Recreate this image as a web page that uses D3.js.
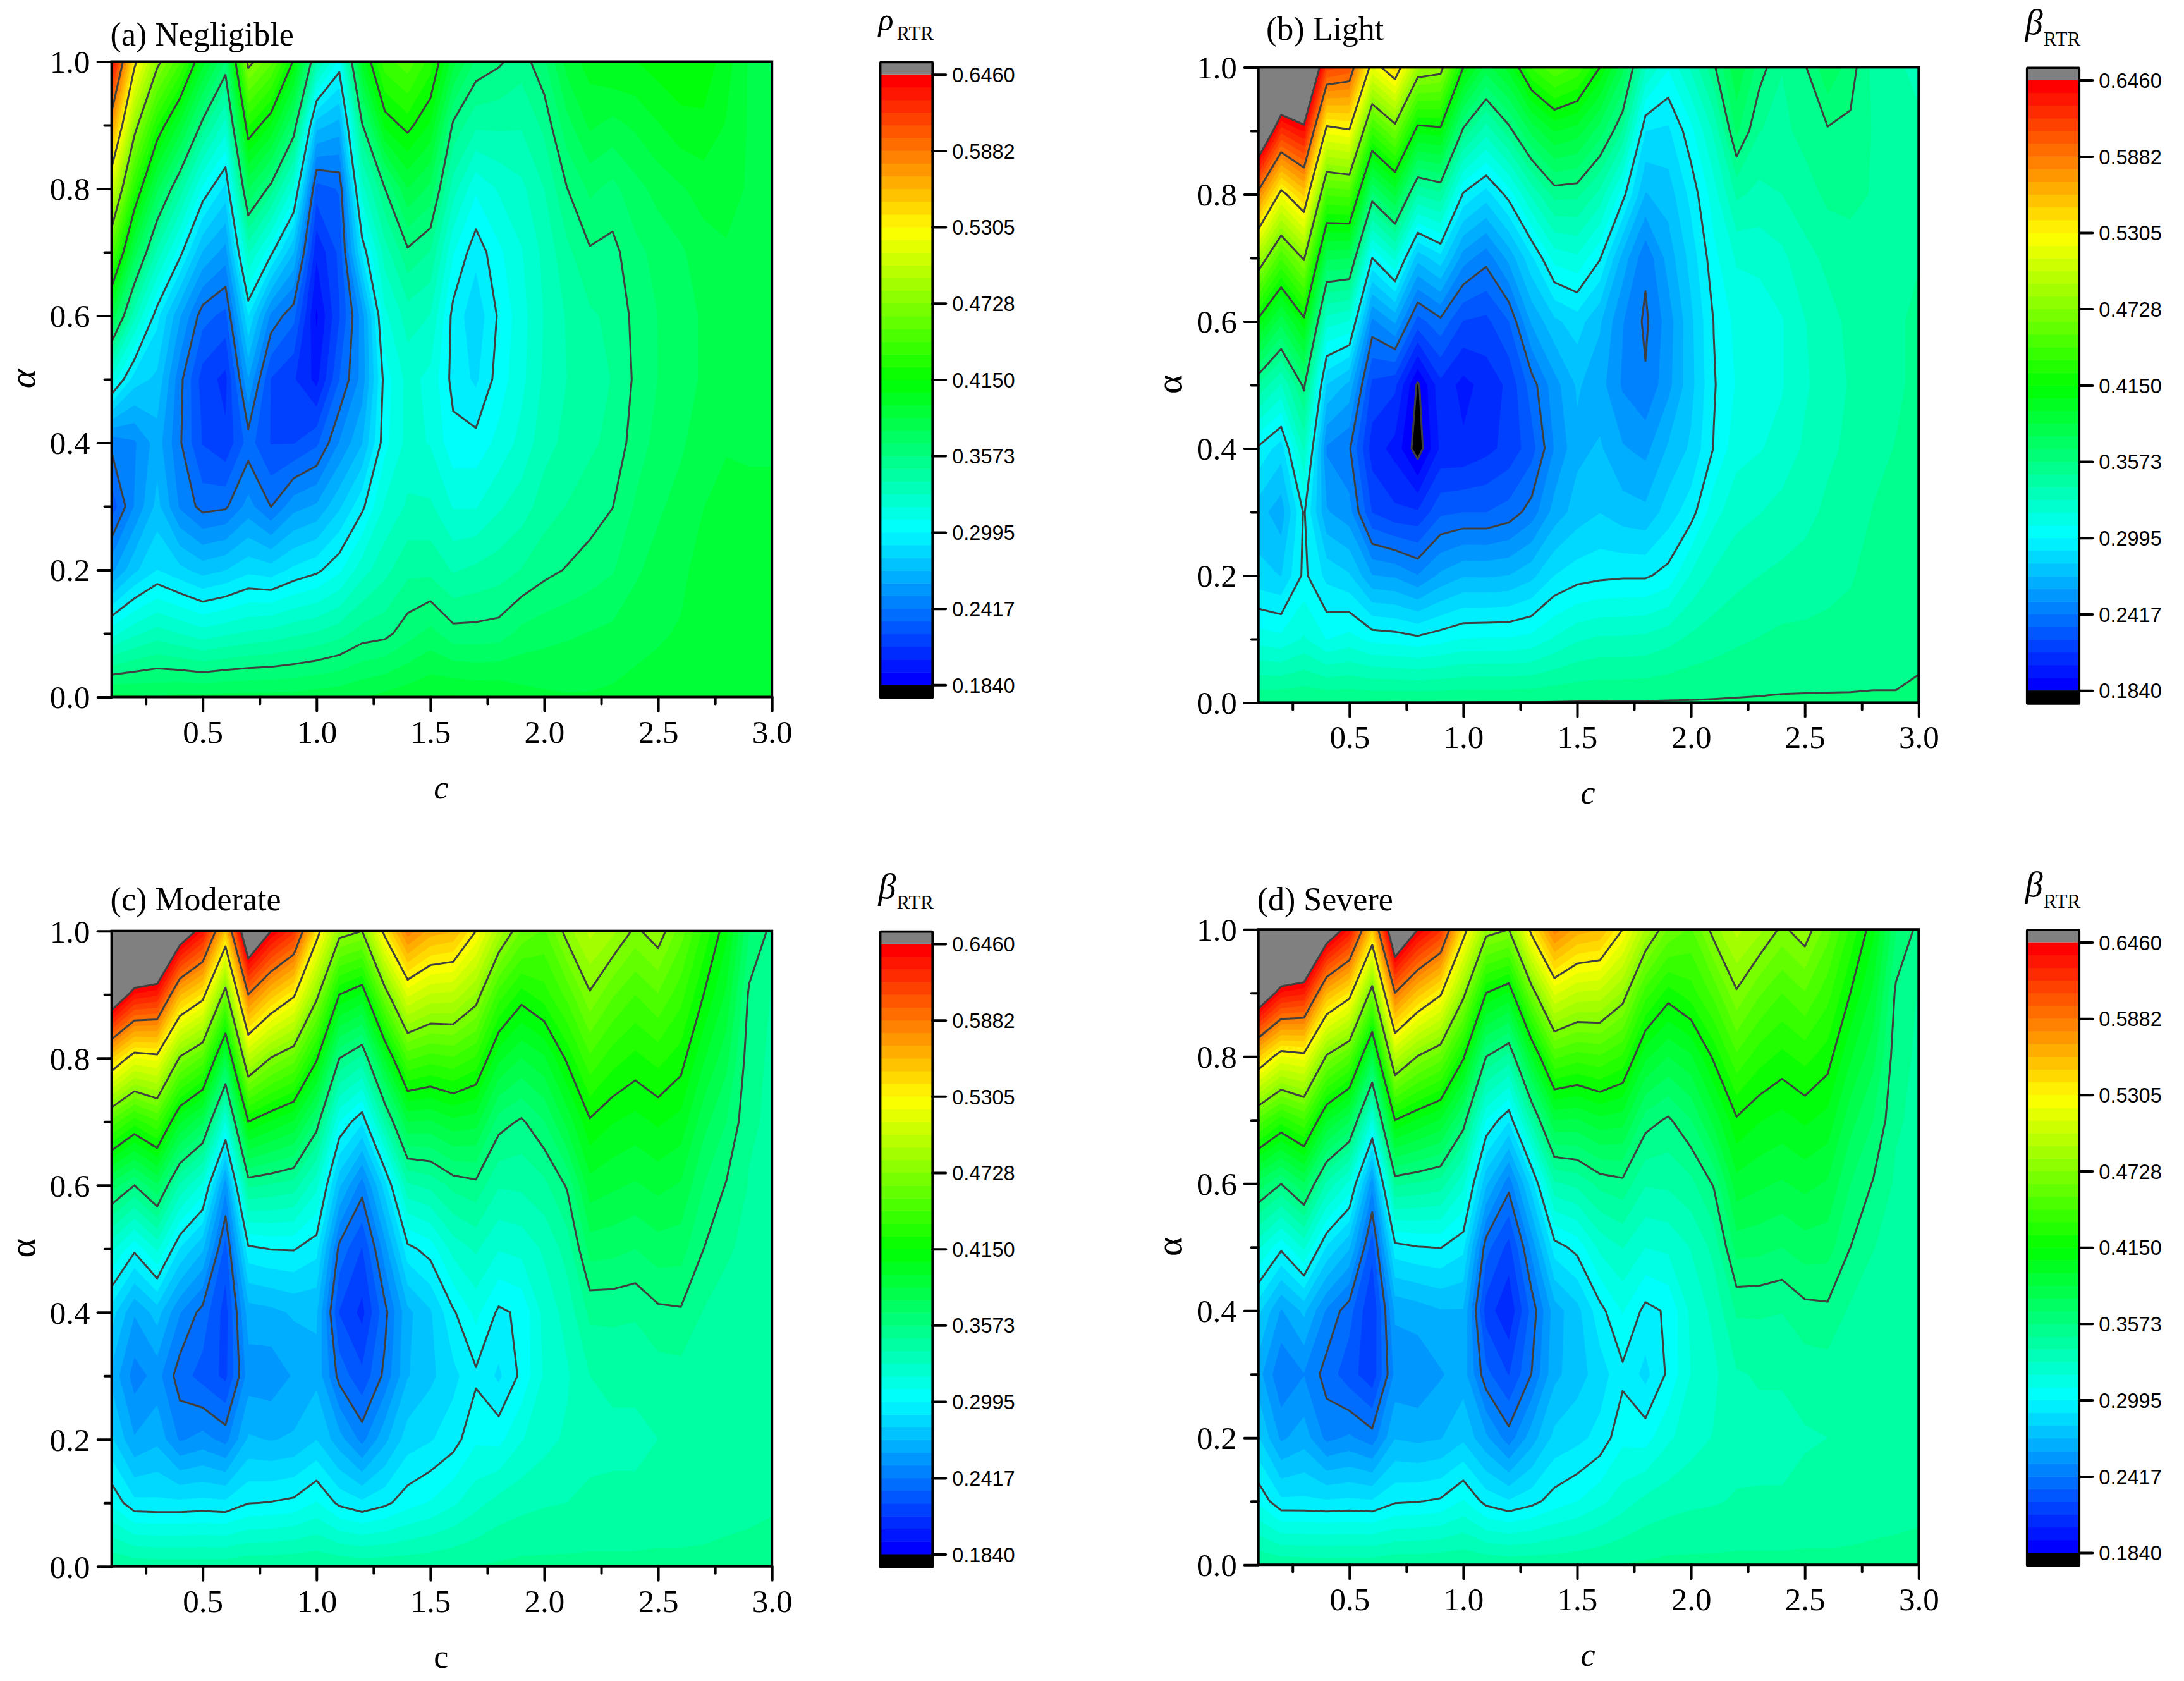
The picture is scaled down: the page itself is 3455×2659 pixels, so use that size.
<!DOCTYPE html>
<html><head><meta charset="utf-8">
<script src="https://cdn.jsdelivr.net/npm/d3@7"></script>
<style>
html,body{margin:0;padding:0;background:#fff}
svg{display:block}
text{fill:#000}
</style></head><body><div id="chart"></div>
<script>
// grid axes
const cValues=[.1,.2,.3,.4,.5,.6,.7,.8,.9,1,1.1,1.2,1.3,1.4,1.5,1.6,1.7,1.8,1.9,2,2.1,2.2,2.3,2.4,2.5,2.6,2.7,2.8,2.9,3];
const alphaValues=[0,.1,.2,.3,.4,.5,.6,.7,.8,.9,1];
const xMajor=[.5,1,1.5,2,2.5,3];
const xMinor=[.25,.75,1.25,1.75,2.25,2.75];
const yMajor=[0,.2,.4,.6,.8,1];
const yMinor=[.1,.3,.5,.7,.9];
const barLabels=["0.1840","0.2417","0.2995","0.3573","0.4150","0.4728","0.5305","0.5882","0.6460"];
const barValues=[.184,.2417,.2995,.3573,.415,.4728,.5305,.5882,.646];
// one row per c value, entries for alpha 0.0 ... 1.0
const panelA=[
[.38,.315,.258,.226,.2445,.316,.386,.45,.509,.574,.64],
[.378,.326,.278,.252,.25,.285,.332,.382,.431,.481,.536],
[.377,.333,.29,.274,.266,.278,.293,.335,.379,.426,.478],
[.379,.328,.283,.25,.243,.245,.262,.303,.344,.393,.445],
[.379,.323,.276,.238,.222,.218,.236,.27,.307,.353,.4],
[.38,.3265,.28,.24,.215,.21,.229,.257,.287,.324,.366],
[.38,.33,.287,.255,.2365,.261,.29,.33,.377,.426,.478],
[.38,.332,.2845,.2415,.222,.222,.249,.302,.353,.405,.456],
[.38,.336,.292,.2575,.222,.214,.235,.271,.316,.366,.413],
[.382,.339,.297,.2625,.23,.2,.192,.205,.228,.2745,.34],
[.383,.344,.307,.2785,.252,.232,.222,.225,.233,.267,.306],
[.386,.352,.324,.297,.27,.255,.256,.292,.3245,.356,.4],
[.389,.354,.335,.32,.306,.304,.316,.333,.357,.408,.44],
[.392,.363,.345,.33,.322,.322,.333,.355,.386,.419,.45],
[.395,.37,.345,.33,.318,.316,.328,.347,.374,.404,.43],
[.397,.361,.337,.318,.303,.296,.296,.31,.333,.355,.39],
[.395,.361,.34,.318,.303,.288,.283,.293,.311,.34,.365],
[.395,.362,.343,.327,.312,.304,.301,.307,.32,.34,.359],
[.39,.37,.348,.333,.322,.316,.315,.318,.326,.339,.352],
[.388,.373,.354,.343,.334,.33,.329,.331,.338,.35,.365],
[.387,.375,.358,.348,.341,.338,.339,.345,.357,.373,.39],
[.387,.377,.362,.352,.346,.344,.346,.356,.369,.388,.4],
[.388,.379,.366,.357,.35,.348,.35,.354,.364,.383,.405],
[.39,.382,.375,.368,.362,.359,.36,.364,.373,.388,.405],
[.39,.385,.38,.375,.37,.367,.367,.37,.38,.395,.41],
[.39,.387,.384,.38,.375,.372,.372,.375,.385,.402,.413],
[.39,.39,.39,.386,.382,.378,.378,.382,.39,.403,.412],
[.39,.39,.392,.39,.385,.383,.383,.385,.39,.395,.4],
[.39,.39,.39,.388,.385,.385,.385,.385,.385,.385,.385],
[.39,.39,.39,.388,.385,.385,.383,.38,.38,.378,.375]];
const panelB=[
[.356,.3145,.283,.275,.2975,.3465,.4109,.4885,.5814,.692,.8],
[.357,.312,.28,.265,.285,.3275,.38,.445,.524,.621,.72],
[.3572,.32,.302,.301,.33,.36,.411,.475,.552,.638,.72],
[.3572,.3087,.287,.262,.25,.28,.323,.3784,.445,.524,.6125],
[.3572,.3128,.2814,.255,.243,.268,.3182,.3768,.4477,.5288,.605],
[.3573,.306,.2614,.222,.208,.22,.2488,.2995,.3645,.4384,.52],
[.3574,.3047,.2595,.215,.2,.215,.2626,.321,.3886,.4636,.546],
[.3574,.302,.2517,.214,.178,.182,.228,.274,.3385,.4083,.485],
[.3574,.3055,.2632,.23,.205,.21,.239,.2865,.345,.411,.48],
[.3575,.3095,.2697,.232,.205,.2,.222,.2561,.298,.3545,.415],
[.3575,.31,.2694,.232,.21,.207,.22,.2453,.2855,.3327,.382],
[.3575,.31,.2708,.236,.216,.215,.232,.264,.3035,.353,.4],
[.3576,.312,.2775,.246,.228,.237,.2625,.288,.3305,.3795,.435],
[.3577,.32,.29,.265,.252,.257,.278,.313,.351,.3966,.452],
[.3578,.327,.295,.275,.268,.272,.285,.3169,.35,.3913,.442],
[.3578,.33,.297,.28,.272,.265,.272,.3005,.335,.372,.415],
[.3579,.33,.298,.275,.262,.25,.252,.267,.3035,.3473,.38],
[.3579,.331,.298,.273,.258,.243,.2397,.244,.27,.29,.33],
[.358,.335,.303,.285,.272,.258,.256,.265,.275,.288,.31],
[.358,.34,.32,.295,.282,.277,.278,.284,.293,.306,.33],
[.3581,.343,.33,.315,.3,.2985,.2998,.306,.314,.33,.355],
[.3582,.346,.335,.325,.315,.31,.312,.32,.34,.369,.385],
[.3583,.348,.338,.328,.318,.312,.312,.322,.335,.348,.362],
[.3584,.35,.34,.332,.322,.318,.318,.326,.338,.345,.348],
[.3585,.35,.342,.335,.33,.327,.328,.335,.343,.351,.356],
[.3586,.35,.345,.34,.336,.333,.335,.34,.35,.356,.375],
[.3587,.35,.347,.343,.34,.339,.34,.344,.35,.355,.362],
[.359,.35,.35,.348,.345,.343,.343,.345,.347,.347,.345],
[.359,.35,.352,.35,.348,.346,.346,.346,.345,.342,.34],
[.363,.35,.352,.35,.35,.35,.35,.347,.343,.34,.335]];
const panelC=[
[.347,.307,.282,.268,.285,.321,.3728,.45,.551,.6765,.8],
[.345,.2925,.262,.247,.262,.302,.3573,.429,.5205,.635,.74],
[.344,.292,.268,.255,.275,.321,.3755,.443,.5245,.629,.73],
[.344,.292,.25,.2365,.252,.2893,.3362,.3973,.4705,.5608,.67],
[.344,.293,.255,.2285,.238,.2723,.3164,.378,.4514,.5383,.635],
[.344,.292,.248,.22,.218,.228,.255,.3177,.3847,.463,.552],
[.346,.299,.272,.256,.266,.297,.3494,.415,.4968,.5882,.69],
[.346,.3,.27,.255,.268,.3,.3467,.404,.472,.5554,.646],
[.347,.302,.272,.262,.272,.3003,.3432,.3948,.4585,.5335,.62],
[.347,.31,.28,.268,.272,.2933,.3217,.3637,.4174,.4784,.54],
[.346,.297,.265,.238,.222,.2385,.2726,.3088,.3575,.415,.48],
[.345,.292,.248,.225,.21,.222,.2465,.2915,.3446,.4045,.4728],
[.345,.297,.268,.2445,.2385,.2567,.285,.3415,.3972,.464,.537],
[.345,.305,.285,.27,.268,.2965,.3366,.386,.4461,.5138,.585],
[.346,.31,.289,.278,.279,.304,.3406,.3849,.4394,.5007,.565],
[.347,.317,.295,.287,.298,.3225,.3508,.3928,.4428,.499,.56],
[.348,.325,.3075,.2975,.312,.33,.354,.3901,.4328,.481,.5305],
[.349,.332,.306,.288,.2975,.3195,.339,.362,.3983,.4392,.49],
[.35,.335,.318,.302,.3015,.322,.34,.3555,.386,.4205,.462],
[.35,.337,.325,.32,.322,.33,.345,.3665,.3943,.43,.452],
[.35,.338,.33,.327,.332,.342,.3585,.389,.4174,.447,.478],
[.35,.34,.335,.338,.35,.371,.392,.4135,.442,.4713,.495],
[.35,.34,.336,.34,.35,.37,.388,.406,.429,.455,.485],
[.35,.34,.336,.34,.349,.367,.385,.402,.422,.444,.47],
[.35,.342,.338,.343,.355,.372,.389,.407,.428,.453,.48],
[.35,.342,.339,.344,.356,.371,.385,.402,.42,.438,.458],
[.35,.343,.34,.341,.347,.3573,.367,.38,.397,.415,.432],
[.35,.345,.342,.341,.344,.349,.3565,.367,.38,.394,.408],
[.35,.346,.343,.342,.343,.345,.347,.349,.351,.355,.368],
[.35,.347,.345,.344,.344,.345,.345,.346,.346,.347,.354]];
const panelD=[
[.347,.307,.281,.265,.283,.321,.3728,.45,.551,.677,.8],
[.345,.292,.259,.243,.26,.302,.3575,.429,.5205,.635,.74],
[.344,.292,.266,.251,.273,.321,.3755,.443,.525,.629,.73],
[.344,.291,.2485,.2375,.25,.289,.3362,.3973,.4705,.561,.67],
[.344,.292,.253,.2265,.236,.272,.3164,.378,.4514,.5383,.635],
[.344,.291,.246,.216,.213,.226,.2545,.3177,.3847,.463,.552],
[.346,.298,.27,.254,.263,.296,.3494,.415,.4968,.588,.69],
[.346,.299,.268,.253,.266,.299,.3467,.404,.472,.5554,.646],
[.347,.301,.27,.26,.27,.3,.3432,.3948,.4585,.5335,.62],
[.347,.31,.278,.266,.27,.2925,.3217,.3637,.4174,.4784,.54],
[.346,.296,.263,.235,.218,.236,.2726,.3088,.3575,.415,.48],
[.345,.291,.246,.222,.205,.219,.2455,.2912,.3446,.4045,.4728],
[.345,.296,.266,.242,.2355,.2545,.285,.3415,.3972,.464,.537],
[.345,.304,.283,.268,.266,.295,.3366,.386,.4461,.5138,.585],
[.346,.309,.287,.276,.277,.303,.3406,.3849,.4394,.5007,.565],
[.347,.316,.293,.285,.296,.3215,.3508,.3928,.4428,.499,.56],
[.348,.324,.3065,.297,.31,.329,.354,.3901,.4328,.481,.5305],
[.349,.331,.305,.287,.2965,.319,.339,.362,.3983,.4392,.49],
[.35,.334,.317,.3015,.301,.321,.34,.3555,.386,.4205,.462],
[.35,.336,.324,.319,.321,.329,.345,.3665,.3943,.43,.452],
[.35,.337,.329,.326,.331,.341,.3585,.389,.4174,.447,.478],
[.35,.339,.334,.337,.349,.371,.392,.4135,.442,.4713,.495],
[.35,.339,.335,.339,.349,.37,.388,.406,.429,.455,.485],
[.35,.339,.335,.339,.348,.367,.385,.402,.422,.444,.47],
[.35,.341,.337,.342,.354,.372,.389,.407,.428,.453,.48],
[.35,.341,.338,.343,.355,.371,.385,.402,.42,.438,.458],
[.35,.342,.339,.34,.346,.3573,.367,.38,.397,.415,.432],
[.35,.344,.341,.34,.343,.348,.3565,.367,.38,.394,.408],
[.35,.345,.342,.341,.342,.344,.346,.349,.351,.355,.368],
[.35,.346,.344,.343,.343,.344,.344,.345,.346,.347,.354]];

const panels=[
 {data:panelA,title:"(a) Negligible",left:176.6,top:97.5,titleY:72,sym:"\u03C1",symY:-50,symSize:50,alphaItalic:true,cItalic:true},
 {data:panelB,title:"(b) Light",left:1990.7,top:106.4,titleY:63,titleX:2003,sym:"\u03B2",symY:-52,symSize:56,alphaItalic:false,cItalic:true},
 {data:panelC,title:"(c) Moderate",left:176.6,top:1472.7,titleY:1440,sym:"\u03B2",symY:-52,symSize:56,alphaItalic:false,cItalic:false},
 {data:panelD,title:"(d) Severe",left:1990.7,top:1470.2,titleY:1440,sym:"\u03B2",symY:-52,symSize:56,alphaItalic:false,cItalic:true}
];
const W=1044.6,H=1005;
const levelMin=.184,levelMax=.646,nBands=48;
const step=(levelMax-levelMin)/nBands;
const thresholds=d3.range(nBands+1).map(i=>levelMin+i*step);
const lineLevels=thresholds.filter((d,i)=>i%6===0);
const rainbow=d3.scaleLinear().domain([0,.25,.5,.75,1]).range(["#0000ff","#00ffff","#00ff00","#ffff00","#ff0000"]);
const bandColor=i=> i>=nBands?"#808080":rainbow(i/(nBands-1));
const serif="'Liberation Serif','Times New Roman',serif";
const sans="'Liberation Sans',Arial,sans-serif";

const svg=d3.select("#chart").append("svg").attr("width",3455).attr("height",2659);
svg.append("rect").attr("width",3455).attr("height",2659).attr("fill","#fff");
const contourGen=d3.contours().size([cValues.length,alphaValues.length]).smooth(true);

panels.forEach((p,pi)=>{
  const g=svg.append("g").attr("transform",`translate(${p.left},${p.top})`);
  const x=d3.scaleLinear().domain([.1,3]).range([0,W]);
  const y=d3.scaleLinear().domain([0,1]).range([H,0]);
  const vals=[];
  alphaValues.forEach((a,r)=>cValues.forEach((c,k)=>vals.push(p.data[k][r])));
  const path=d3.geoPath(d3.geoTransform({point(px,py){
    const cv=cValues[0]+(px-.5)*(cValues[1]-cValues[0]);
    const av=alphaValues[0]+(py-.5)*(alphaValues[1]-alphaValues[0]);
    this.stream.point(x(cv),y(av));
  }}));
  const clipId="clip"+pi;
  g.append("clipPath").attr("id",clipId).append("rect").attr("width",W).attr("height",H);
  const plot=g.append("g").attr("clip-path",`url(#${clipId})`);
  plot.append("rect").attr("width",W).attr("height",H).attr("fill","#000");
  plot.selectAll("path.band").data(thresholds).join("path").attr("class","band")
    .attr("d",t=>path(contourGen.contour(vals,t)))
    .attr("fill",(t,i)=>bandColor(i));
  plot.selectAll("path.iso").data(lineLevels).join("path").attr("class","iso")
    .attr("d",t=>path(contourGen.contour(vals,t)))
    .attr("fill","none").attr("stroke","#404040").attr("stroke-width",3).attr("stroke-linejoin","round");
  // frame
  g.append("rect").attr("width",W).attr("height",H).attr("fill","none").attr("stroke","#000").attr("stroke-width",4);
  // axes
  const styleAxis=s=>{s.select(".domain").remove();s.selectAll("line").attr("stroke","#000").attr("stroke-width",4).attr("stroke-linecap","round");};
  const xa=g.append("g").attr("transform",`translate(0,${H})`).call(d3.axisBottom(x).tickValues(xMajor).tickSize(22).tickFormat(d3.format(".1f")));
  styleAxis(xa);
  xa.selectAll("text").attr("y",72).attr("dy",0).attr("font-family",serif).attr("font-size",51).attr("fill","#000");
  const xm=g.append("g").attr("transform",`translate(0,${H})`).call(d3.axisBottom(x).tickValues(xMinor).tickSize(11).tickFormat(""));
  styleAxis(xm);
  const ya=g.append("g").call(d3.axisLeft(y).tickValues(yMajor).tickSize(22).tickFormat(d3.format(".1f")));
  styleAxis(ya);
  ya.selectAll("text").attr("x",-34).attr("dy",".34em").attr("font-family",serif).attr("font-size",51).attr("fill","#000");
  const ym=g.append("g").call(d3.axisLeft(y).tickValues(yMinor).tickSize(11).tickFormat(""));
  styleAxis(ym);
  // titles
  svg.append("text").attr("x",p.titleX||p.left-2).attr("y",p.titleY).attr("font-family",serif).attr("font-size",52).text(p.title);
  g.append("text").attr("x",W/2-1).attr("y",H+160).attr("text-anchor","middle").attr("font-family",serif).attr("font-size",52)
    .attr("font-style",p.cItalic?"italic":"normal").text("c");
  g.append("text").attr("transform",`translate(${-122},${H/2-1}) rotate(-90)`).attr("text-anchor","middle").attr("font-family",serif)
    .attr("font-size",58).attr("font-style",p.alphaItalic?"italic":"normal").text("\u03B1");
  // colour bar
  const bx=1216,bw=82.6;
  const by=d3.scaleLinear().domain([levelMin,levelMax]).range([985.8,20.2]);
  const bar=g.append("g").attr("transform",`translate(${bx},0)`);
  const bandH=by(levelMin)-by(levelMin+step);
  bar.selectAll("rect.b").data(thresholds.slice(0,nBands)).join("rect").attr("class","b")
    .attr("width",bw).attr("y",t=>by(t+step)).attr("height",bandH+.5).attr("fill",(t,i)=>bandColor(i));
  bar.append("rect").attr("width",bw).attr("y",0.9).attr("height",by(levelMax)-0.9).attr("fill","#808080");
  bar.append("rect").attr("width",bw).attr("y",by(levelMin)).attr("height",1006.5-by(levelMin)).attr("fill","#000");
  bar.append("rect").attr("width",bw).attr("y",0.9).attr("height",1005.6).attr("fill","none").attr("stroke","#000").attr("stroke-width",3.6).attr("rx",1);
  const ba=bar.append("g").attr("transform",`translate(${bw},0)`).call(d3.axisRight(by).tickValues(barValues).tickSize(21).tickFormat((d,i)=>barLabels[i]));
  styleAxis(ba);
  ba.selectAll("text").attr("x",31).attr("dy",".36em").attr("font-family",sans).attr("font-size",32.5).attr("fill","#000");
  // colour bar title
  bar.append("text").attr("x",-3).attr("y",p.symY).attr("font-family",serif).attr("font-style","italic").attr("font-size",p.symSize).text(p.sym);
  bar.append("text").attr("x",26).attr("y",-34.5).attr("font-family",serif).attr("font-size",31).text("RTR");
});
</script></body></html>
